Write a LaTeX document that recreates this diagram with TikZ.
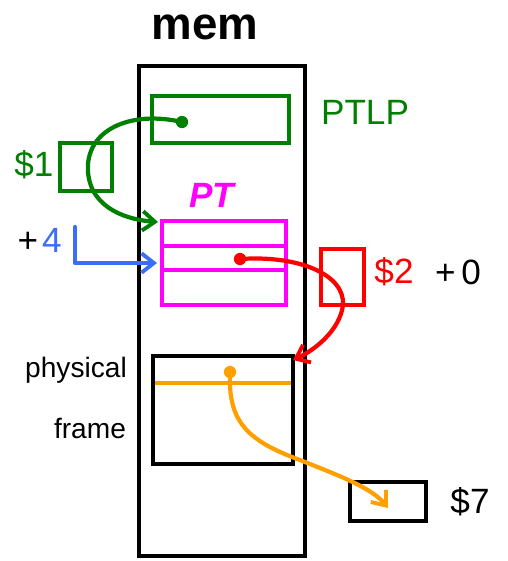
\documentclass[tikz,border=0pt]{standalone}
\usepackage{fontspec}
\setmainfont{Liberation Sans}
\usepackage{xcolor}
\usetikzlibrary{arrows.meta,calc,positioning}
\definecolor{penGreen}{RGB}{0,128,0}
\definecolor{penBlue}{RGB}{60,110,245}
\definecolor{penOrange}{RGB}{255,160,0}
\definecolor{penMagenta}{RGB}{255,0,255}
\tikzset{
  box/.style={line width=1.8pt},
  ink/.style={line width=2.4pt,line cap=round,line join=round},
  tip/.style={-{Straight Barb[length=7pt,width=11pt,line width=2.2pt]}},
  lbl/.style={font=\fontsize{20}{22}\selectfont}
}
\begin{document}
\begin{tikzpicture}[x=0.02cm,y=-0.02cm]
        \useasboundingbox (0,0) rectangle (507,561);
        %Corners of boxes
        \coordinate (memnw) at (139,66);
        \coordinate (memse) at (305,556);
        \coordinate (ptlpnw) at (152,96);
        \coordinate (ptlpse) at (289,143);
        \coordinate (onenw) at (60,143);
        \coordinate (onese) at (112,191);
        \coordinate (ptnw) at (162,221);
        \coordinate (ptse) at (286,305);
        \coordinate (twonw) at (321,249);
        \coordinate (twose) at (364,305);
        \coordinate (framenw) at (153,356);
        \coordinate (framese) at (293,464);
        \coordinate (sevennw) at (350,482);
        \coordinate (sevense) at (426,521);
        %Draw boxes
        \draw[line width=2.8pt] (memnw) rectangle (memse);
        \draw[box,penGreen] (ptlpnw) rectangle (ptlpse);
        \draw[box,penGreen] (onenw) rectangle (onese);
        \draw[box,penMagenta] (ptnw) rectangle (ptse);
        \draw[box,penMagenta] (162,246) -- (286,246);
        \draw[box,penMagenta] (162,270) -- (286,270);
        \draw[box,red] (twonw) rectangle (twose);
        \draw[box] (framenw) rectangle (framese);
        \draw[box,penOrange] (155,383) -- (291,383);
        \draw[box] (sevennw) rectangle (sevense);
        %Draw labels
        \node[font=\fontsize{26}{28}\selectfont\bfseries] (mem) at (205,27) {mem};
        \node[lbl,penGreen] (ptlp) at (365,112) {PTLP};
        \node[lbl,penGreen] (one) at (34,165) {\$1};
        \node[lbl,penMagenta,font=\fontsize{20}{22}\selectfont\bfseries\itshape] (pt) at (212,195) {PT};
        \node[lbl] (plus) at (28,242) {+};
        \node[lbl,penBlue] (four) at (52,240) {4};
        \node[lbl,red] (two) at (394,272) {\$2};
        \node[lbl] (zero) at (458,272) {+\,0};
        \node[lbl] (seven) at (470,502) {\$7};
        \node[font=\fontsize{16}{18}\selectfont] (phys) at (76,370) {physical};
        \node[font=\fontsize{16}{18}\selectfont] (frame) at (90,428) {frame};
        %Draw pointers
        \coordinate (gdot) at (182,122);
        \coordinate (gend) at (158,222);
        \coordinate (bstart) at (75,227);
        \coordinate (bcorner) at (75,263);
        \coordinate (bend) at (157,263);
        \coordinate (rdot) at (240,259);
        \coordinate (rend) at (293,360);
        \coordinate (odot) at (230,372);
        \coordinate (oend) at (388,508);
        \fill[penGreen] (gdot) circle (3.5pt);
        \fill[red] (rdot) circle (3.5pt);
        \fill[penOrange] (odot) circle (3.5pt);
        \draw[ink,penGreen,tip] (gdot) .. controls (130,110) and (85,130) .. (88,172)
              .. controls (91,210) and (130,220) .. (gend);
        \draw[ink,penBlue,tip] (bstart) -- (bcorner) -- (bend);
        \draw[ink,red,tip] (rdot) .. controls (300,255) and (345,275) .. (343,305)
              .. controls (340,330) and (315,350) .. (rend);
        \draw[ink,penOrange,tip] (odot) .. controls (228,420) and (245,440) .. (300,460)
              .. controls (340,476) and (372,488) .. (oend);
      \end{tikzpicture}
\end{document}
